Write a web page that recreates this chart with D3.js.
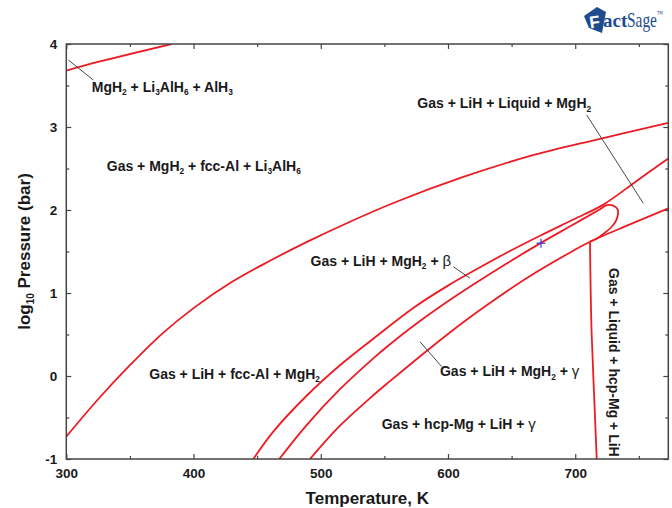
<!DOCTYPE html>
<html>
<head>
<meta charset="utf-8">
<script src="https://cdn.jsdelivr.net/npm/d3@7"></script>
<style>
  html, body { margin: 0; padding: 0; background: #fff; }
  svg { display: block; font-family: "Liberation Sans", Arial, sans-serif; }
  text { white-space: pre; }
</style>
</head>
<body>
<div id="chart"></div>
<script>
// Li-Mg-Al-H phase diagram, T in K vs log10 P (bar)

const xMajor = [300, 400, 500, 600, 700];
const xMinor = [350, 450, 550, 650, 750];
const yMajor = [-1, 0, 1, 2, 3, 4];
const yMinor = [-0.5, 0.5, 1.5, 2.5, 3.5];

// phase boundaries [T, log10 P]
const alh3Line = [[300, 3.68], [326.5, 3.79], [382.8, 4.0]];
const fccAlLine = [[300, -0.73], [325, -0.28], [350, 0.13], [375, 0.505], [400, 0.818], [430, 1.133],
  [460, 1.388], [490, 1.622], [520, 1.838], [560, 2.102], [612, 2.398], [664, 2.648], [717, 2.849], [773.15, 3.05]];
const betaUpperLine = [[447, -1.0], [462.7, -0.67], [488.9, -0.238], [515.1, 0.129], [541.3, 0.449],
  [572.7, 0.82], [599, 1.08], [625.2, 1.31], [646.1, 1.485], [672.3, 1.69], [698.5, 1.885], [722.1, 2.065],
  [745.6, 2.32], [760.1, 2.48], [773.15, 2.62]];
const betaLoopLine = [[467.4, -1.0], [488.9, -0.591], [515.1, -0.159], [541.3, 0.213], [554.4, 0.383],
  [572.7, 0.603], [593.7, 0.834], [619.9, 1.101], [646.1, 1.355], [673.1, 1.604], [698.5, 1.825],
  [719.5, 2.01], [724.7, 2.058], [729.9, 2.052], [733.2, 2.01], [733.6, 1.95], [732, 1.87], [728.5, 1.795],
  [722.6, 1.717], [717.1, 1.657], [711.6, 1.618]];
const gammaLine = [[491.5, -1.0], [515.1, -0.599], [541.3, -0.232], [554.4, -0.062], [585.9, 0.335],
  [612, 0.648], [638.3, 0.937], [664.5, 1.205], [698.5, 1.51], [711.6, 1.618], [742, 1.82], [773.15, 2.02]];
const liquidLine = [[711.6, 1.618], [712.9, 0.515], [715, -0.29], [716.9, -1.0]];

// region labels: text, T, log10 P (baseline start)
const regionLabels = [
  ["MgH_2 + Li_3AlH_6 + AlH_3", 320, 3.425],
  ["Gas + MgH_2 + fcc-Al + Li_3AlH_6", 331.8, 2.474],
  ["Gas + LiH + Liquid + MgH_2", 575.9, 3.225],
  ["Gas + LiH + MgH_2 + β", 492, 1.331],
  ["Gas + LiH + fcc-Al + MgH_2", 365.2, -0.036],
  ["Gas + LiH + MgH_2 + γ", 593.7, 0.0],
  ["Gas + hcp-Mg + LiH + γ", 547.9, -0.639]
];
const verticalLabel = ["Gas + Liquid + hcp-Mg + LiH", 726.4, 1.30];

// leader lines [[T1, P1], [T2, P2]]
const leaders = [
  [[301.6, 3.807], [321.2, 3.566]],
  [[709.0, 3.145], [753.5, 2.081]],
  [[604.2, 1.317], [617.3, 1.177]],
  [[578.0, 0.413], [595.1, 0.112]]
];
const markerPoint = [673.1, 1.60];

const W = 672, H = 508;
const plot = { left: 66.3, right: 668.3, top: 44, bottom: 459 };
const red = "#ec1c24";
const frameColor = "#444";
const textColor = "#1a1a1a";

const svg = d3.select("#chart").append("svg")
  .attr("width", W).attr("height", H);

const x = d3.scaleLinear().domain([300, 773.15]).range([plot.left, plot.right]);
const y = d3.scaleLinear().domain([-1, 4]).range([plot.bottom, plot.top]);

svg.append("defs").append("clipPath").attr("id", "clip")
  .append("rect")
  .attr("x", plot.left).attr("y", plot.top)
  .attr("width", plot.right - plot.left).attr("height", plot.bottom - plot.top);

// --- axes ---
function styleAxis(g) {
  g.select(".domain").remove();
  g.selectAll(".tick line").attr("stroke", frameColor).attr("stroke-width", 1.2);
  g.selectAll(".tick text")
    .attr("font-size", 13.5).attr("font-weight", "bold")
    .attr("fill", textColor).attr("font-family", "Liberation Sans, Arial, sans-serif");
}

svg.append("g").attr("transform", `translate(0,${plot.bottom})`)
  .call(d3.axisBottom(x).tickValues(xMajor).tickSize(-5).tickPadding(9).tickFormat(d => String(d)))
  .call(styleAxis);
svg.append("g").attr("transform", `translate(0,${plot.bottom})`)
  .call(d3.axisBottom(x).tickValues(xMinor).tickSize(-3).tickFormat(""))
  .call(styleAxis);
svg.append("g").attr("transform", `translate(0,${plot.top})`)
  .call(d3.axisTop(x).tickValues(xMajor).tickSize(-5).tickFormat(""))
  .call(styleAxis);
svg.append("g").attr("transform", `translate(0,${plot.top})`)
  .call(d3.axisTop(x).tickValues(xMinor).tickSize(-3).tickFormat(""))
  .call(styleAxis);
svg.append("g").attr("transform", `translate(${plot.left},0)`)
  .call(d3.axisLeft(y).tickValues(yMajor).tickSize(-5).tickPadding(9).tickFormat(d => String(d)))
  .call(styleAxis);
svg.append("g").attr("transform", `translate(${plot.left},0)`)
  .call(d3.axisLeft(y).tickValues(yMinor).tickSize(-3).tickFormat(""))
  .call(styleAxis);
svg.append("g").attr("transform", `translate(${plot.right},0)`)
  .call(d3.axisRight(y).tickValues(yMajor).tickSize(-5).tickFormat(""))
  .call(styleAxis);
svg.append("g").attr("transform", `translate(${plot.right},0)`)
  .call(d3.axisRight(y).tickValues(yMinor).tickSize(-3).tickFormat(""))
  .call(styleAxis);

// --- curves ---
const line = d3.line()
  .x(d => x(d[0])).y(d => y(d[1]))
  .curve(d3.curveCatmullRom.alpha(0.5));

const curves = svg.append("g").attr("clip-path", "url(#clip)");
[alh3Line, fccAlLine, betaUpperLine, betaLoopLine, gammaLine].forEach(c => {
  curves.append("path").attr("d", line(c))
    .attr("fill", "none").attr("stroke", red).attr("stroke-width", 1.8)
    .attr("stroke-linejoin", "round");
});
curves.append("path")
  .attr("d", d3.line().x(d => x(d[0])).y(d => y(d[1])).curve(d3.curveMonotoneY)(liquidLine))
  .attr("fill", "none").attr("stroke", red).attr("stroke-width", 1.8);

// leader lines
svg.append("g").selectAll("line").data(leaders).enter().append("line")
  .attr("x1", d => x(d[0][0])).attr("y1", d => y(d[0][1]))
  .attr("x2", d => x(d[1][0])).attr("y2", d => y(d[1][1]))
  .attr("stroke", "#333").attr("stroke-width", 0.9);

// blue cross marker
const mk = svg.append("g")
  .attr("transform", `translate(${x(markerPoint[0])},${y(markerPoint[1])})`)
  .attr("stroke", "#3a3ad0").attr("stroke-width", 1.2);
mk.append("line").attr("x1", -4.5).attr("x2", 4.5);
mk.append("line").attr("y1", -4.5).attr("y2", 4.5);

// frame
svg.append("rect")
  .attr("x", plot.left).attr("y", plot.top)
  .attr("width", plot.right - plot.left).attr("height", plot.bottom - plot.top)
  .attr("fill", "none").attr("stroke", frameColor).attr("stroke-width", 1.5);

// --- labels with subscripts ---
function richText(sel, str, size) {
  const parts = str.split(/(_\d+|[βγ])/).filter(s => s.length);
  let shift = 0;
  parts.forEach(p => {
    const t = sel.append("tspan");
    if (p[0] === "_") {
      t.text(p.slice(1)).attr("font-size", size * 0.6).attr("dy", 3.5 - shift);
      shift = 3.5;
    } else {
      t.text(p).attr("dy", -shift);
      shift = 0;
      if (/[βγ]/.test(p)) t.attr("font-weight", "normal").attr("font-size", size + 1);
    }
  });
}

const labels = svg.append("g")
  .attr("font-size", 14).attr("font-weight", "bold").attr("fill", textColor);
regionLabels.forEach(([s, t, p]) => {
  const tx = labels.append("text").attr("x", x(t)).attr("y", y(p));
  richText(tx, s, 14);
});
{
  const [s, t, p] = verticalLabel;
  const tx = labels.append("text")
    .attr("transform", `translate(${x(t)},${y(p)}) rotate(90)`);
  richText(tx, s, 14);
}

// axis titles
svg.append("text")
  .attr("x", (plot.left + plot.right) / 2).attr("y", 504)
  .attr("text-anchor", "middle")
  .attr("font-size", 17).attr("font-weight", "bold").attr("fill", textColor)
  .text("Temperature, K");

const yt = svg.append("text")
  .attr("transform", `translate(30,${(plot.top + plot.bottom) / 2}) rotate(-90)`)
  .attr("text-anchor", "middle")
  .attr("font-size", 17).attr("font-weight", "bold").attr("fill", textColor);
yt.append("tspan").text("log");
yt.append("tspan").text("10").attr("font-size", 10).attr("dy", 4);
yt.append("tspan").text(" Pressure (bar)").attr("dy", -4);

// --- FactSage logo ---
const logo = svg.append("g").attr("fill", "#1e4c8e");
logo.append("polygon").attr("points", "584,16 597,7 606,12 602,33 589,28");
logo.append("text").attr("x", 589).attr("y", 28)
  .attr("fill", "#fff").attr("font-size", 17).attr("font-weight", "bold")
  .attr("transform", "rotate(-8 594 20)").text("F");
logo.append("text").attr("x", 603).attr("y", 27)
  .attr("font-family", "Liberation Serif, serif").attr("font-weight", "bold").attr("font-size", 19)
  .text("act");
const sage = logo.append("text")
  .attr("transform", "translate(627,27) scale(0.7,1)")
  .attr("font-family", "Liberation Serif, serif").attr("font-size", 22);
sage.append("tspan").text("Sage");
sage.append("tspan").text("™").attr("font-size", 9).attr("dy", -10);
</script>
</body>
</html>
